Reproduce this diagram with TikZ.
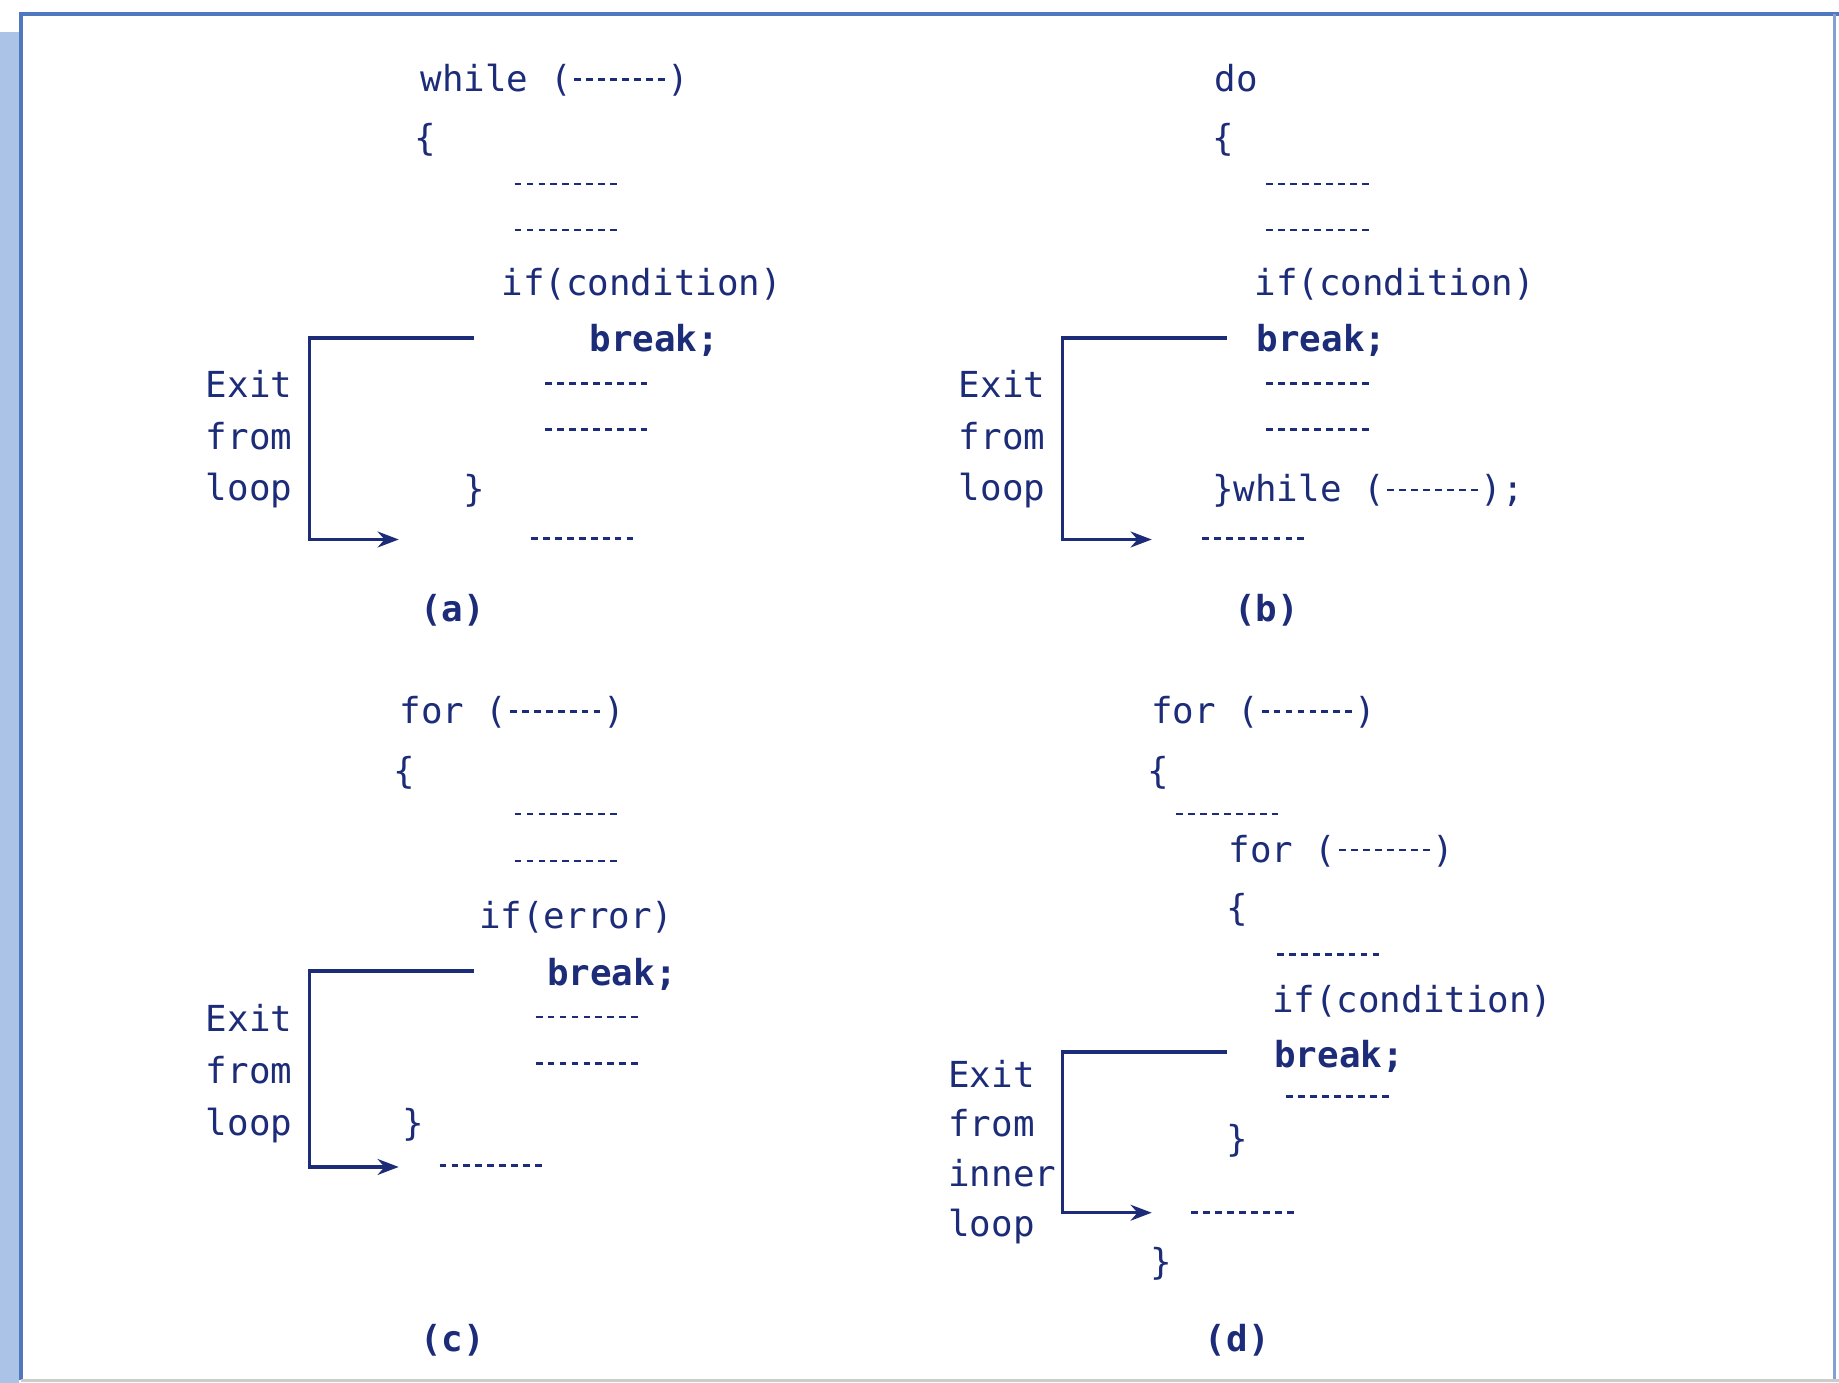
\documentclass[tikz,border=0pt]{standalone}
\usepackage{fontspec}
\setmonofont{DejaVu Sans Mono}
\usetikzlibrary{arrows.meta}
\definecolor{ink}{RGB}{28,44,120}
\definecolor{frameblue}{RGB}{80,120,190}
\definecolor{stripblue}{RGB}{170,195,230}
\newcommand\phdash{\hbox to 3em{\xleaders\hbox to 0.333em{\hss\rule{0.19em}{0.075em}\hss}\hfill}}
\newcommand\phpar{\hbox to 2.67em{\xleaders\hbox to 0.333em{\hss\rule[0.3em]{0.19em}{0.075em}\hss}\hfill}}
\begin{document}
\begin{tikzpicture}[x=0.011728cm,y=-0.011728cm,
 codetxt/.style={inner sep=0pt, anchor=base west, text=ink, font=\ttfamily\fontsize{10.2}{14.7}\selectfont},
 boldtxt/.style={codetxt, font=\ttfamily\bfseries\fontsize{10.2}{14.7}\selectfont},
 dashtxt/.style={inner sep=0pt, anchor=west, text=ink, font=\ttfamily\fontsize{10.2}{14.7}\selectfont},
 captxt/.style={boldtxt, anchor=base},
 exittxt/.style={codetxt, anchor=north west, align=left},
 exitline/.style={draw=ink, line width=1pt, -{Stealth[length=6pt,width=4.5pt]}}]
\fill[white] (0,0) rectangle (1568,1179);
\useasboundingbox (0,0) rectangle (1568,1179);
\fill[stripblue] (0,27) rectangle (16,1179);
\draw[frameblue, line width=1.2pt] (18,1177) -- (18,12) -- (1568,12);
\draw[frameblue!70, line width=0.8pt] (1564,12) -- (1564,1177);
\draw[gray!40, line width=0.8pt] (18,1177) -- (1568,1177);

% ---------- (a) ----------
\node[codetxt] (a1) at (358,78) {while (\phpar)};
\node[codetxt] (a2) at (353,128) {\{};
\node[dashtxt] (a3) at (436,157) {\phdash};
\node[dashtxt] (a4) at (436,196) {\phdash};
\node[codetxt] (a5) at (427,252) {if(condition)};
\node[boldtxt] (a6) at (502,300) {break;};
\node[dashtxt] (a7) at (462,327) {\phdash};
\node[dashtxt] (a8) at (462,366) {\phdash};
\node[codetxt] (a9) at (395,428) {\}};
\node[dashtxt] (a10) at (450,459) {\phdash};
\node[captxt] (acap) at (386,530) {(a)};
\node[exittxt] (aexit) at (175,315) {Exit\\from\\loop};
\coordinate (as) at (404,288);
\coordinate (ae) at (340,460);
\draw[exitline] (as) -- ++(-140,0) |- (ae);

% ---------- (b) ----------
\node[codetxt] (b1) at (1035,78) {do};
\node[codetxt] (b2) at (1033,128) {\{};
\node[dashtxt] (b3) at (1077,157) {\phdash};
\node[dashtxt] (b4) at (1077,196) {\phdash};
\node[codetxt] (b5) at (1069,252) {if(condition)};
\node[boldtxt] (b6) at (1071,300) {break;};
\node[dashtxt] (b7) at (1077,327) {\phdash};
\node[dashtxt] (b8) at (1077,366) {\phdash};
\node[codetxt] (b9) at (1033,428) {\}while (\phpar);};
\node[dashtxt] (b10) at (1022,459) {\phdash};
\node[captxt] (bcap) at (1080,530) {(b)};
\node[exittxt] (bexit) at (817,315) {Exit\\from\\loop};
\coordinate (bs) at (1046,288);
\coordinate (be) at (982,460);
\draw[exitline] (bs) -- ++(-140,0) |- (be);

% ---------- (c) ----------
\node[codetxt] (c1) at (340,617) {for (\phpar)};
\node[codetxt] (c2) at (335,668) {\{};
\node[dashtxt] (c3) at (436,694) {\phdash};
\node[dashtxt] (c4) at (436,734) {\phdash};
\node[codetxt] (c5) at (408,792) {if(error)};
\node[boldtxt] (c6) at (466,840) {break;};
\node[dashtxt] (c7) at (454,867) {\phdash};
\node[dashtxt] (c8) at (454,907) {\phdash};
\node[codetxt] (c9) at (343,968) {\}};
\node[dashtxt] (c10) at (372,994) {\phdash};
\node[captxt] (ccap) at (386,1152) {(c)};
\node[exittxt] (cexit) at (175,856) {Exit\\from\\loop};
\coordinate (cs) at (404,828);
\coordinate (ce) at (340,995);
\draw[exitline] (cs) -- ++(-140,0) |- (ce);

% ---------- (d) ----------
\node[codetxt] (d1) at (981,617) {for (\phpar)};
\node[codetxt] (d2) at (978,668) {\{};
\node[dashtxt] (d3) at (1000,694) {\phdash};
\node[codetxt] (d4) at (1047,735) {for (\phpar)};
\node[codetxt] (d5) at (1045,785) {\{};
\node[dashtxt] (d6) at (1086,814) {\phdash};
\node[codetxt] (d7) at (1084,863) {if(condition)};
\node[boldtxt] (d8) at (1086,910) {break;};
\node[dashtxt] (d9) at (1094,935) {\phdash};
\node[codetxt] (d10) at (1045,982) {\}};
\node[dashtxt] (d11) at (1013,1034) {\phdash};
\node[codetxt] (d12) at (980,1087) {\}};
\node[captxt] (dcap) at (1055,1152) {(d)};
\node[exittxt, font=\ttfamily\fontsize{10.2}{14.2}\selectfont] (dexit) at (808,903) {Exit\\from\\inner\\loop};
\coordinate (ds) at (1046,897);
\coordinate (de) at (982,1034);
\draw[exitline] (ds) -- ++(-140,0) |- (de);
\end{tikzpicture}
\end{document}
